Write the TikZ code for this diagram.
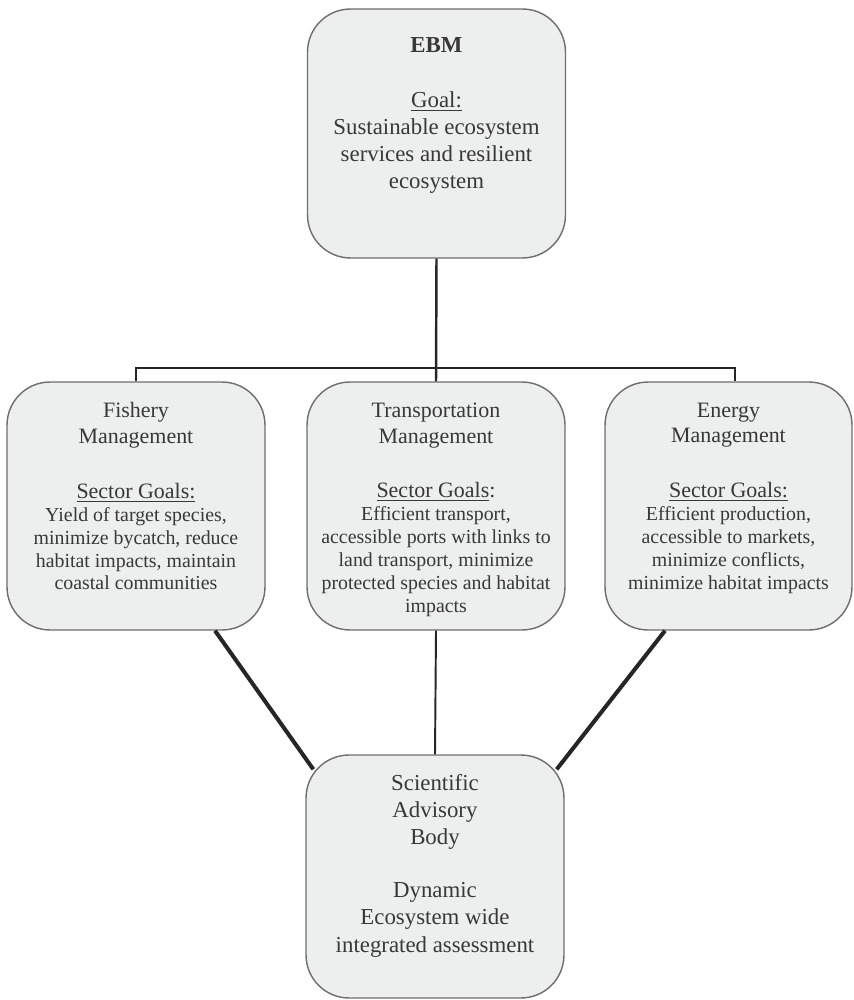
\documentclass[tikz,border=0pt]{standalone}
\usepackage{fontspec}
\setmainfont{Liberation Serif}
\usetikzlibrary{positioning,calc}

\definecolor{boxfill}{HTML}{EDEEEE}
\definecolor{boxline}{HTML}{6E6E6E}
\definecolor{inktext}{HTML}{383838}
\newcommand{\hdfont}{\fontsize{12.5}{15}\selectfont}

\tikzset{
  panel/.style={draw=boxline, fill=boxfill, line width=0.8pt, rounded corners=0.86cm,
    minimum width=5.16cm, minimum height=4.96cm, inner sep=0pt},
  bigtext/.style={font=\fontsize{13}{15.4}\selectfont, text=inktext, align=center, inner sep=0pt, anchor=north},
  smalltext/.style={font=\fontsize{11.3}{13}\selectfont, text=inktext, align=center, inner sep=0pt, anchor=north},
  bus/.style={line width=1.4pt, black!85},
  tie/.style={line width=2.3pt, black!85}
}

\begin{document}
\begin{tikzpicture}[x=0.02cm, y=-0.02cm]
  \useasboundingbox (0,0) rectangle (854,1000);

  \node[panel, minimum height=4.98cm] at (436.5,133.5) (ebm) {};
  \node[panel] at (136,506) (fish) {};
  \node[panel] at (436,506) (trans) {};
  \node[panel, minimum width=4.94cm] at (728.5,506) (energy) {};
  \node[panel, minimum height=4.86cm] at (435,876.5) (sci) {};

  \node[bigtext, below=0.57cm of ebm.north] (ebmtxt)
    {{\bfseries EBM}\\[0.56cm] \underline{Goal:}\\ Sustainable ecosystem\\ services and resilient\\ ecosystem};
  \node[smalltext, below=0.42cm of fish.north] (fishtxt)
    {{\hdfont Fishery}\\[1.7pt] {\hdfont Management}\\[0.64cm] {\hdfont\underline{Sector Goals:}}\\
     Yield of target species,\\ minimize bycatch, reduce\\ habitat impacts, maintain\\ coastal communities};
  \node[smalltext, below=0.42cm of trans.north] (transtxt)
    {{\hdfont Transportation}\\[1.7pt] {\hdfont Management}\\[0.64cm] {\hdfont\underline{Sector Goals}:}\\
     Efficient transport,\\ accessible ports with links to\\ land transport, minimize\\ protected species and habitat\\ impacts};
  \node[smalltext, below=0.42cm of energy.north] (energytxt)
    {{\hdfont Energy}\\[1.7pt] {\hdfont Management}\\[0.64cm] {\hdfont\underline{Sector Goals:}}\\
     Efficient production,\\ accessible to markets,\\ minimize conflicts,\\ minimize habitat impacts};
  \node[bigtext, below=0.4cm of sci.north] (scitxt)
    {Scientific\\ Advisory\\ Body\\[0.52cm] Dynamic\\ Ecosystem wide\\ integrated assessment};

  \coordinate (busline) at (0,368);
  \draw[bus] (ebm.south) -- (trans.north);
  \draw[bus] (fish.north) |- (ebm.south |- busline) -| ($(energy.north)+(6.5,0)$);

  \draw[tie] ($(fish.south)+(79,0)$) -- ($(sci.north west)+(8,15)$);
  \draw[tie] ($(energy.south)+(-63.5,0)$) -- ($(sci.north east)+(-8,15)$);
  \draw[bus, line width=1.1pt] (trans.south) -- (sci.north);

\end{tikzpicture}
\end{document}
